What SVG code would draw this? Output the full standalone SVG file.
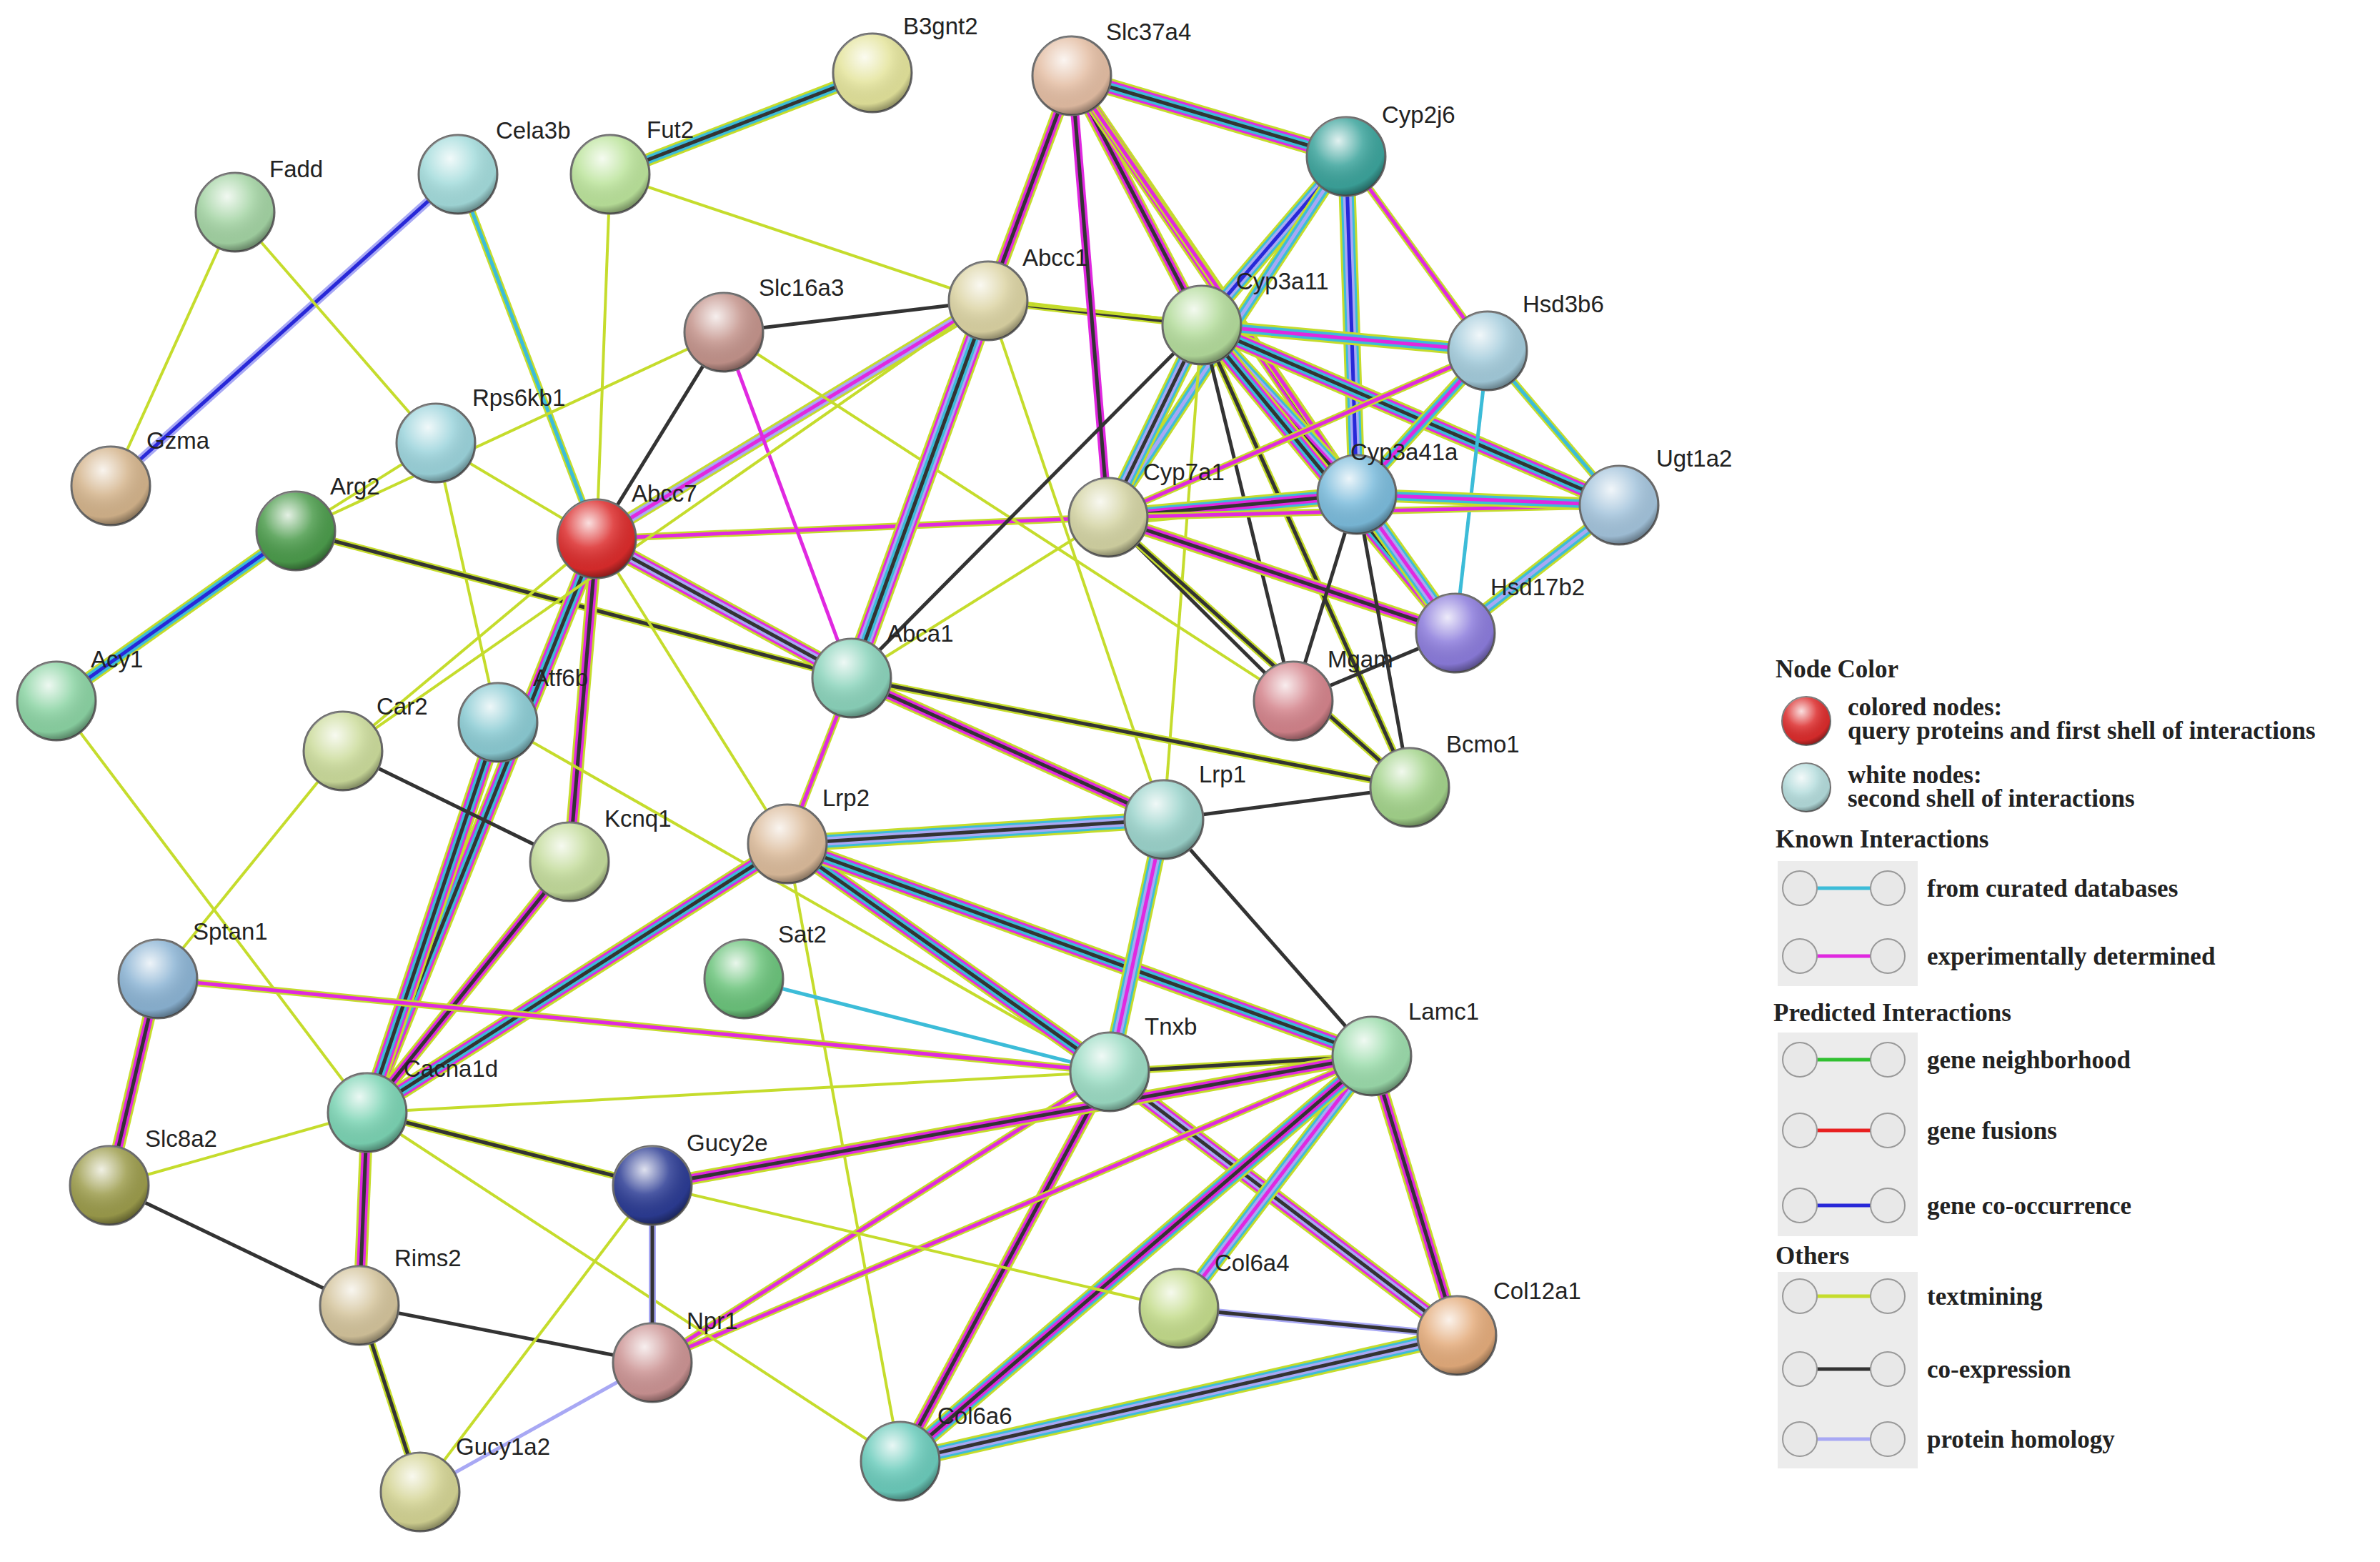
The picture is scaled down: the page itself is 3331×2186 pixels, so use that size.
<svg xmlns="http://www.w3.org/2000/svg" xmlns:xlink="http://www.w3.org/1999/xlink" width="3331" height="2186" viewBox="0 0 3331 2186">
<style>
.y{stroke:#c5dc2c}.m{stroke:#e028e0}.c{stroke:#3cbcd8}.k{stroke:#333}.p{stroke:#a8a8f4}.b{stroke:#2828d8}.g{stroke:#30c030}.r{stroke:#e82020}
use,path{fill:none}
.nd circle.base{stroke:#6a6a6a;stroke-width:3}
.lbl{font-family:"Liberation Sans",Arial,sans-serif;font-size:33px;fill:#222}
.lg{font-family:"Liberation Serif","Times New Roman",serif;font-weight:bold;font-size:35px;fill:#222}
.box{fill:#ececec}
</style>
<defs>
<radialGradient id="shine" cx="0.4" cy="0.3" r="0.7">
<stop offset="0" stop-color="#fff" stop-opacity="0.85"/>
<stop offset="0.45" stop-color="#fff" stop-opacity="0.15"/>
<stop offset="0.85" stop-color="#000" stop-opacity="0.05"/>
<stop offset="1" stop-color="#000" stop-opacity="0.35"/>
</radialGradient>
<path id="e1" d="M1221 102L854 244"/><path id="e2" d="M854 244L835 754"/><path id="e3" d="M854 244L1383 421"/>
<path id="e4" d="M641 244L835 754"/><path id="e5" d="M641 244L155 680"/><path id="e6" d="M329 297L155 680"/>
<path id="e7" d="M329 297L610 620"/><path id="e8" d="M610 620L414 743"/><path id="e9" d="M610 620L835 754"/>
<path id="e10" d="M610 620L697 1011"/><path id="e11" d="M414 743L79 981"/><path id="e12" d="M414 743L1192 949"/>
<path id="e13" d="M79 981L514 1557"/><path id="e14" d="M835 754L1013 465"/><path id="e15" d="M835 754L1383 421"/>
<path id="e16" d="M835 754L1551 724"/><path id="e17" d="M835 754L1192 949"/><path id="e18" d="M835 754L797 1206"/>
<path id="e19" d="M835 754L514 1557"/><path id="e20" d="M835 754L1102 1181"/><path id="e21" d="M835 754L480 1051"/>
<path id="e22" d="M1013 465L1192 949"/><path id="e23" d="M1013 465L414 743"/><path id="e24" d="M1013 465L1810 981"/>
<path id="e25" d="M1013 465L1383 421"/><path id="e26" d="M1383 421L1192 949"/><path id="e27" d="M1383 421L1682 455"/>
<path id="e28" d="M1383 421L1500 106"/><path id="e29" d="M1383 421L1629 1147"/><path id="e30" d="M1383 421L2082 491"/>
<path id="e31" d="M1383 421L480 1051"/><path id="e32" d="M1500 106L1884 219"/><path id="e33" d="M1500 106L1682 455"/>
<path id="e34" d="M1500 106L1551 724"/><path id="e35" d="M1500 106L1899 692"/><path id="e36" d="M1500 106L2037 886"/>
<path id="e37" d="M1884 219L1682 455"/><path id="e38" d="M1884 219L1899 692"/><path id="e39" d="M1884 219L2082 491"/>
<path id="e40" d="M1884 219L1551 724"/><path id="e41" d="M1682 455L2082 491"/><path id="e42" d="M1682 455L1899 692"/>
<path id="e43" d="M1682 455L2266 707"/><path id="e44" d="M1682 455L2037 886"/><path id="e45" d="M1682 455L1551 724"/>
<path id="e46" d="M1682 455L1810 981"/><path id="e47" d="M1682 455L1973 1102"/><path id="e48" d="M1682 455L1192 949"/>
<path id="e49" d="M1682 455L1629 1147"/><path id="e50" d="M2082 491L1899 692"/><path id="e51" d="M2082 491L2266 707"/>
<path id="e52" d="M2082 491L2037 886"/><path id="e53" d="M2082 491L1551 724"/><path id="e54" d="M1551 724L1899 692"/>
<path id="e55" d="M1551 724L2266 707"/><path id="e56" d="M1551 724L2037 886"/><path id="e57" d="M1551 724L1810 981"/>
<path id="e58" d="M1551 724L1973 1102"/><path id="e59" d="M1551 724L1192 949"/><path id="e60" d="M1899 692L2266 707"/>
<path id="e61" d="M1899 692L2037 886"/><path id="e62" d="M1899 692L1810 981"/><path id="e63" d="M1899 692L1973 1102"/>
<path id="e64" d="M2266 707L2037 886"/><path id="e65" d="M2037 886L1810 981"/><path id="e66" d="M1192 949L1973 1102"/>
<path id="e67" d="M1192 949L1629 1147"/><path id="e68" d="M1192 949L1102 1181"/><path id="e69" d="M697 1011L514 1557"/>
<path id="e70" d="M697 1011L1553 1500"/><path id="e71" d="M480 1051L797 1206"/><path id="e72" d="M480 1051L221 1370"/>
<path id="e73" d="M797 1206L514 1557"/><path id="e74" d="M1102 1181L1629 1147"/><path id="e75" d="M1102 1181L1553 1500"/>
<path id="e76" d="M1102 1181L1920 1478"/><path id="e77" d="M1102 1181L514 1557"/><path id="e78" d="M1102 1181L1260 2045"/>
<path id="e79" d="M1629 1147L1553 1500"/><path id="e80" d="M1629 1147L1920 1478"/><path id="e81" d="M1629 1147L1973 1102"/>
<path id="e82" d="M1041 1370L1553 1500"/><path id="e83" d="M221 1370L1553 1500"/><path id="e84" d="M221 1370L153 1659"/>
<path id="e85" d="M1553 1500L1920 1478"/><path id="e86" d="M1553 1500L514 1557"/><path id="e87" d="M1553 1500L913 1907"/>
<path id="e88" d="M1553 1500L1260 2045"/><path id="e89" d="M1553 1500L2039 1869"/><path id="e90" d="M1920 1478L2039 1869"/>
<path id="e91" d="M1920 1478L1650 1831"/><path id="e92" d="M1920 1478L1260 2045"/><path id="e93" d="M1920 1478L913 1659"/>
<path id="e94" d="M1920 1478L913 1907"/><path id="e95" d="M1650 1831L2039 1869"/><path id="e96" d="M1260 2045L2039 1869"/>
<path id="e97" d="M514 1557L913 1659"/><path id="e98" d="M514 1557L153 1659"/><path id="e99" d="M514 1557L503 1827"/>
<path id="e100" d="M514 1557L1260 2045"/><path id="e101" d="M913 1659L1650 1831"/><path id="e102" d="M153 1659L503 1827"/>
<path id="e103" d="M503 1827L913 1907"/><path id="e104" d="M503 1827L588 2088"/><path id="e105" d="M913 1659L913 1907"/>
<path id="e106" d="M913 1659L588 2088"/><path id="e107" d="M913 1907L588 2088"/>
</defs>
<rect width="3331" height="2186" fill="#fff"/>
<g id="connectors">
<use href="#e1" class="y" stroke-width="18"/><use href="#e1" class="c" stroke-width="12"/><use href="#e1" class="k" stroke-width="5"/>
<use href="#e2" class="y" stroke-width="4"/><use href="#e3" class="y" stroke-width="4"/>
<use href="#e4" class="y" stroke-width="10"/><use href="#e4" class="c" stroke-width="5"/>
<use href="#e5" class="p" stroke-width="12"/><use href="#e5" class="b" stroke-width="5"/>
<use href="#e6" class="y" stroke-width="4"/><use href="#e7" class="y" stroke-width="4"/><use href="#e8" class="y" stroke-width="4"/>
<use href="#e9" class="y" stroke-width="4"/><use href="#e10" class="y" stroke-width="4"/>
<use href="#e11" class="y" stroke-width="18"/><use href="#e11" class="c" stroke-width="12"/><use href="#e11" class="b" stroke-width="5"/>
<use href="#e12" class="y" stroke-width="10"/><use href="#e12" class="k" stroke-width="5"/>
<use href="#e13" class="y" stroke-width="4"/><use href="#e14" class="k" stroke-width="5"/>
<use href="#e15" class="y" stroke-width="18"/><use href="#e15" class="p" stroke-width="12"/><use href="#e15" class="m" stroke-width="5"/>
<use href="#e16" class="y" stroke-width="10"/><use href="#e16" class="m" stroke-width="5"/>
<use href="#e17" class="y" stroke-width="24"/><use href="#e17" class="m" stroke-width="18"/><use href="#e17" class="p" stroke-width="12"/><use href="#e17" class="k" stroke-width="5"/>
<use href="#e18" class="y" stroke-width="18"/><use href="#e18" class="m" stroke-width="12"/><use href="#e18" class="k" stroke-width="5"/>
<use href="#e19" class="y" stroke-width="24"/><use href="#e19" class="m" stroke-width="18"/><use href="#e19" class="c" stroke-width="12"/><use href="#e19" class="k" stroke-width="5"/>
<use href="#e20" class="y" stroke-width="4"/><use href="#e21" class="y" stroke-width="4"/>
<use href="#e22" class="m" stroke-width="5"/><use href="#e23" class="y" stroke-width="4"/><use href="#e24" class="y" stroke-width="4"/>
<use href="#e25" class="k" stroke-width="5"/>
<use href="#e26" class="y" stroke-width="30"/><use href="#e26" class="m" stroke-width="24"/><use href="#e26" class="p" stroke-width="18"/><use href="#e26" class="c" stroke-width="12"/><use href="#e26" class="k" stroke-width="5"/>
<use href="#e27" class="y" stroke-width="10"/><use href="#e27" class="k" stroke-width="5"/>
<use href="#e28" class="y" stroke-width="18"/><use href="#e28" class="m" stroke-width="12"/><use href="#e28" class="k" stroke-width="5"/>
<use href="#e29" class="y" stroke-width="4"/><use href="#e30" class="y" stroke-width="4"/><use href="#e31" class="y" stroke-width="4"/>
<use href="#e32" class="y" stroke-width="24"/><use href="#e32" class="m" stroke-width="18"/><use href="#e32" class="c" stroke-width="12"/><use href="#e32" class="k" stroke-width="5"/>
<use href="#e33" class="y" stroke-width="18"/><use href="#e33" class="m" stroke-width="12"/><use href="#e33" class="k" stroke-width="5"/>
<use href="#e34" class="m" stroke-width="12"/><use href="#e34" class="k" stroke-width="5"/>
<use href="#e35" class="y" stroke-width="18"/><use href="#e35" class="m" stroke-width="12"/><use href="#e35" class="k" stroke-width="5"/>
<use href="#e36" class="y" stroke-width="10"/><use href="#e36" class="m" stroke-width="5"/>
<use href="#e37" class="y" stroke-width="24"/><use href="#e37" class="c" stroke-width="18"/><use href="#e37" class="p" stroke-width="12"/><use href="#e37" class="b" stroke-width="5"/>
<use href="#e38" class="y" stroke-width="24"/><use href="#e38" class="c" stroke-width="18"/><use href="#e38" class="p" stroke-width="12"/><use href="#e38" class="b" stroke-width="5"/>
<use href="#e39" class="y" stroke-width="10"/><use href="#e39" class="m" stroke-width="5"/>
<use href="#e40" class="y" stroke-width="18"/><use href="#e40" class="c" stroke-width="12"/><use href="#e40" class="p" stroke-width="5"/>
<use href="#e41" class="y" stroke-width="18"/><use href="#e41" class="c" stroke-width="12"/><use href="#e41" class="m" stroke-width="5"/>
<use href="#e42" class="y" stroke-width="30"/><use href="#e42" class="c" stroke-width="24"/><use href="#e42" class="p" stroke-width="18"/><use href="#e42" class="m" stroke-width="12"/><use href="#e42" class="k" stroke-width="5"/>
<use href="#e43" class="y" stroke-width="24"/><use href="#e43" class="m" stroke-width="18"/><use href="#e43" class="c" stroke-width="12"/><use href="#e43" class="k" stroke-width="5"/>
<use href="#e44" class="y" stroke-width="24"/><use href="#e44" class="m" stroke-width="18"/><use href="#e44" class="c" stroke-width="12"/><use href="#e44" class="k" stroke-width="5"/>
<use href="#e45" class="y" stroke-width="24"/><use href="#e45" class="c" stroke-width="18"/><use href="#e45" class="p" stroke-width="12"/><use href="#e45" class="k" stroke-width="5"/>
<use href="#e46" class="k" stroke-width="5"/>
<use href="#e47" class="y" stroke-width="10"/><use href="#e47" class="k" stroke-width="5"/>
<use href="#e48" class="k" stroke-width="5"/><use href="#e49" class="y" stroke-width="4"/>
<use href="#e50" class="y" stroke-width="18"/><use href="#e50" class="c" stroke-width="12"/><use href="#e50" class="m" stroke-width="5"/>
<use href="#e51" class="y" stroke-width="10"/><use href="#e51" class="c" stroke-width="5"/>
<use href="#e52" class="c" stroke-width="5"/>
<use href="#e53" class="y" stroke-width="10"/><use href="#e53" class="m" stroke-width="5"/>
<use href="#e54" class="y" stroke-width="24"/><use href="#e54" class="c" stroke-width="18"/><use href="#e54" class="m" stroke-width="12"/><use href="#e54" class="k" stroke-width="5"/>
<use href="#e55" class="y" stroke-width="10"/><use href="#e55" class="m" stroke-width="5"/>
<use href="#e56" class="y" stroke-width="18"/><use href="#e56" class="m" stroke-width="12"/><use href="#e56" class="k" stroke-width="5"/>
<use href="#e57" class="k" stroke-width="5"/>
<use href="#e58" class="y" stroke-width="10"/><use href="#e58" class="k" stroke-width="5"/>
<use href="#e59" class="y" stroke-width="4"/>
<use href="#e60" class="y" stroke-width="18"/><use href="#e60" class="c" stroke-width="12"/><use href="#e60" class="m" stroke-width="5"/>
<use href="#e61" class="y" stroke-width="24"/><use href="#e61" class="c" stroke-width="18"/><use href="#e61" class="p" stroke-width="12"/><use href="#e61" class="m" stroke-width="5"/>
<use href="#e62" class="k" stroke-width="5"/><use href="#e63" class="k" stroke-width="5"/>
<use href="#e64" class="y" stroke-width="18"/><use href="#e64" class="c" stroke-width="12"/><use href="#e64" class="p" stroke-width="5"/>
<use href="#e65" class="k" stroke-width="5"/>
<use href="#e66" class="y" stroke-width="10"/><use href="#e66" class="k" stroke-width="5"/>
<use href="#e67" class="y" stroke-width="18"/><use href="#e67" class="m" stroke-width="12"/><use href="#e67" class="k" stroke-width="5"/>
<use href="#e68" class="y" stroke-width="10"/><use href="#e68" class="m" stroke-width="5"/>
<use href="#e69" class="y" stroke-width="24"/><use href="#e69" class="m" stroke-width="18"/><use href="#e69" class="c" stroke-width="12"/><use href="#e69" class="k" stroke-width="5"/>
<use href="#e70" class="y" stroke-width="4"/><use href="#e71" class="k" stroke-width="5"/><use href="#e72" class="y" stroke-width="4"/>
<use href="#e73" class="y" stroke-width="18"/><use href="#e73" class="m" stroke-width="12"/><use href="#e73" class="k" stroke-width="5"/>
<use href="#e74" class="y" stroke-width="24"/><use href="#e74" class="c" stroke-width="18"/><use href="#e74" class="p" stroke-width="12"/><use href="#e74" class="k" stroke-width="5"/>
<use href="#e75" class="y" stroke-width="24"/><use href="#e75" class="m" stroke-width="18"/><use href="#e75" class="c" stroke-width="12"/><use href="#e75" class="k" stroke-width="5"/>
<use href="#e76" class="y" stroke-width="24"/><use href="#e76" class="m" stroke-width="18"/><use href="#e76" class="c" stroke-width="12"/><use href="#e76" class="k" stroke-width="5"/>
<use href="#e77" class="y" stroke-width="24"/><use href="#e77" class="m" stroke-width="18"/><use href="#e77" class="c" stroke-width="12"/><use href="#e77" class="k" stroke-width="5"/>
<use href="#e78" class="y" stroke-width="4"/>
<use href="#e79" class="y" stroke-width="24"/><use href="#e79" class="c" stroke-width="18"/><use href="#e79" class="p" stroke-width="12"/><use href="#e79" class="m" stroke-width="5"/>
<use href="#e80" class="k" stroke-width="5"/><use href="#e81" class="k" stroke-width="5"/>
<use href="#e82" class="c" stroke-width="5"/>
<use href="#e83" class="y" stroke-width="10"/><use href="#e83" class="m" stroke-width="5"/>
<use href="#e84" class="y" stroke-width="18"/><use href="#e84" class="m" stroke-width="12"/><use href="#e84" class="k" stroke-width="5"/>
<use href="#e85" class="y" stroke-width="10"/><use href="#e85" class="k" stroke-width="5"/>
<use href="#e86" class="y" stroke-width="4"/>
<use href="#e87" class="y" stroke-width="10"/><use href="#e87" class="m" stroke-width="5"/>
<use href="#e88" class="y" stroke-width="18"/><use href="#e88" class="m" stroke-width="12"/><use href="#e88" class="k" stroke-width="5"/>
<use href="#e89" class="y" stroke-width="24"/><use href="#e89" class="m" stroke-width="18"/><use href="#e89" class="p" stroke-width="12"/><use href="#e89" class="k" stroke-width="5"/>
<use href="#e90" class="y" stroke-width="18"/><use href="#e90" class="m" stroke-width="12"/><use href="#e90" class="k" stroke-width="5"/>
<use href="#e91" class="y" stroke-width="24"/><use href="#e91" class="c" stroke-width="18"/><use href="#e91" class="p" stroke-width="12"/><use href="#e91" class="m" stroke-width="5"/>
<use href="#e92" class="y" stroke-width="24"/><use href="#e92" class="c" stroke-width="18"/><use href="#e92" class="m" stroke-width="12"/><use href="#e92" class="k" stroke-width="5"/>
<use href="#e93" class="y" stroke-width="18"/><use href="#e93" class="m" stroke-width="12"/><use href="#e93" class="k" stroke-width="5"/>
<use href="#e94" class="y" stroke-width="10"/><use href="#e94" class="m" stroke-width="5"/>
<use href="#e95" class="p" stroke-width="10"/><use href="#e95" class="k" stroke-width="5"/>
<use href="#e96" class="y" stroke-width="24"/><use href="#e96" class="c" stroke-width="18"/><use href="#e96" class="p" stroke-width="12"/><use href="#e96" class="k" stroke-width="5"/>
<use href="#e97" class="y" stroke-width="10"/><use href="#e97" class="k" stroke-width="5"/>
<use href="#e98" class="y" stroke-width="4"/>
<use href="#e99" class="y" stroke-width="18"/><use href="#e99" class="m" stroke-width="12"/><use href="#e99" class="k" stroke-width="5"/>
<use href="#e100" class="y" stroke-width="4"/><use href="#e101" class="y" stroke-width="4"/>
<use href="#e102" class="k" stroke-width="5"/><use href="#e103" class="k" stroke-width="5"/>
<use href="#e104" class="y" stroke-width="10"/><use href="#e104" class="k" stroke-width="5"/>
<use href="#e105" class="p" stroke-width="10"/><use href="#e105" class="k" stroke-width="5"/>
<use href="#e106" class="y" stroke-width="4"/><use href="#e107" class="p" stroke-width="5"/>
</g>
<g id="nodes">
<g id="B3gnt2" class="nd"><circle class="base" cx="1221" cy="102" r="55" fill="#e4e49c"/><circle cx="1221" cy="102" r="55" fill="url(#shine)"/><text class="lbl" x="1264" y="48">B3gnt2</text></g>
<g id="Slc37a4" class="nd"><circle class="base" cx="1500" cy="106" r="55" fill="#e4bea4"/><circle cx="1500" cy="106" r="55" fill="url(#shine)"/><text class="lbl" x="1548" y="56">Slc37a4</text></g>
<g id="Cela3b" class="nd"><circle class="base" cx="641" cy="244" r="55" fill="#a4dcdc"/><circle cx="641" cy="244" r="55" fill="url(#shine)"/><text class="lbl" x="694" y="194">Cela3b</text></g>
<g id="Fut2" class="nd"><circle class="base" cx="854" cy="244" r="55" fill="#bce49c"/><circle cx="854" cy="244" r="55" fill="url(#shine)"/><text class="lbl" x="905" y="193">Fut2</text></g>
<g id="Fadd" class="nd"><circle class="base" cx="329" cy="297" r="55" fill="#a4d4a4"/><circle cx="329" cy="297" r="55" fill="url(#shine)"/><text class="lbl" x="377" y="248">Fadd</text></g>
<g id="Cyp2j6" class="nd"><circle class="base" cx="1884" cy="219" r="55" fill="#3ca49c"/><circle cx="1884" cy="219" r="55" fill="url(#shine)"/><text class="lbl" x="1934" y="172">Cyp2j6</text></g>
<g id="Slc16a3" class="nd"><circle class="base" cx="1013" cy="465" r="55" fill="#c4948c"/><circle cx="1013" cy="465" r="55" fill="url(#shine)"/><text class="lbl" x="1062" y="414">Slc16a3</text></g>
<g id="Abcc1" class="nd"><circle class="base" cx="1383" cy="421" r="55" fill="#dcd4a4"/><circle cx="1383" cy="421" r="55" fill="url(#shine)"/><text class="lbl" x="1431" y="372">Abcc1</text></g>
<g id="Cyp3a11" class="nd"><circle class="base" cx="1682" cy="455" r="55" fill="#b4dc9c"/><circle cx="1682" cy="455" r="55" fill="url(#shine)"/><text class="lbl" x="1730" y="405">Cyp3a11</text></g>
<g id="Hsd3b6" class="nd"><circle class="base" cx="2082" cy="491" r="55" fill="#a4ccdc"/><circle cx="2082" cy="491" r="55" fill="url(#shine)"/><text class="lbl" x="2131" y="437">Hsd3b6</text></g>
<g id="Rps6kb1" class="nd"><circle class="base" cx="610" cy="620" r="55" fill="#9cd4dc"/><circle cx="610" cy="620" r="55" fill="url(#shine)"/><text class="lbl" x="661" y="568">Rps6kb1</text></g>
<g id="Gzma" class="nd"><circle class="base" cx="155" cy="680" r="55" fill="#d4b48c"/><circle cx="155" cy="680" r="55" fill="url(#shine)"/><text class="lbl" x="205" y="628">Gzma</text></g>
<g id="Arg2" class="nd"><circle class="base" cx="414" cy="743" r="55" fill="#4c9c4c"/><circle cx="414" cy="743" r="55" fill="url(#shine)"/><text class="lbl" x="462" y="692">Arg2</text></g>
<g id="Abcc7" class="nd"><circle class="base" cx="835" cy="754" r="55" fill="#dc2c2c"/><circle cx="835" cy="754" r="55" fill="url(#shine)"/><text class="lbl" x="884" y="702">Abcc7</text></g>
<g id="Cyp7a1" class="nd"><circle class="base" cx="1551" cy="724" r="55" fill="#d4d4a4"/><circle cx="1551" cy="724" r="55" fill="url(#shine)"/><text class="lbl" x="1600" y="672">Cyp7a1</text></g>
<g id="Cyp3a41a" class="nd"><circle class="base" cx="1899" cy="692" r="55" fill="#7cbcdc"/><circle cx="1899" cy="692" r="55" fill="url(#shine)"/><text class="lbl" x="1890" y="644">Cyp3a41a</text></g>
<g id="Ugt1a2" class="nd"><circle class="base" cx="2266" cy="707" r="55" fill="#a4c4dc"/><circle cx="2266" cy="707" r="55" fill="url(#shine)"/><text class="lbl" x="2318" y="653">Ugt1a2</text></g>
<g id="Hsd17b2" class="nd"><circle class="base" cx="2037" cy="886" r="55" fill="#8c7cdc"/><circle cx="2037" cy="886" r="55" fill="url(#shine)"/><text class="lbl" x="2086" y="833">Hsd17b2</text></g>
<g id="Abca1" class="nd"><circle class="base" cx="1192" cy="949" r="55" fill="#8cd4bc"/><circle cx="1192" cy="949" r="55" fill="url(#shine)"/><text class="lbl" x="1241" y="898">Abca1</text></g>
<g id="Mgam" class="nd"><circle class="base" cx="1810" cy="981" r="55" fill="#d4848c"/><circle cx="1810" cy="981" r="55" fill="url(#shine)"/><text class="lbl" x="1858" y="934">Mgam</text></g>
<g id="Acy1" class="nd"><circle class="base" cx="79" cy="981" r="55" fill="#8cd4a4"/><circle cx="79" cy="981" r="55" fill="url(#shine)"/><text class="lbl" x="127" y="934">Acy1</text></g>
<g id="Atf6b" class="nd"><circle class="base" cx="697" cy="1011" r="55" fill="#8cccd4"/><circle cx="697" cy="1011" r="55" fill="url(#shine)"/><text class="lbl" x="746" y="960">Atf6b</text></g>
<g id="Car2" class="nd"><circle class="base" cx="480" cy="1051" r="55" fill="#ccdc9c"/><circle cx="480" cy="1051" r="55" fill="url(#shine)"/><text class="lbl" x="527" y="1000">Car2</text></g>
<g id="Bcmo1" class="nd"><circle class="base" cx="1973" cy="1102" r="55" fill="#a4d48c"/><circle cx="1973" cy="1102" r="55" fill="url(#shine)"/><text class="lbl" x="2024" y="1053">Bcmo1</text></g>
<g id="Lrp1" class="nd"><circle class="base" cx="1629" cy="1147" r="55" fill="#9cd4cc"/><circle cx="1629" cy="1147" r="55" fill="url(#shine)"/><text class="lbl" x="1678" y="1095">Lrp1</text></g>
<g id="Lrp2" class="nd"><circle class="base" cx="1102" cy="1181" r="55" fill="#dcbc9c"/><circle cx="1102" cy="1181" r="55" fill="url(#shine)"/><text class="lbl" x="1151" y="1128">Lrp2</text></g>
<g id="Kcnq1" class="nd"><circle class="base" cx="797" cy="1206" r="55" fill="#c4dc9c"/><circle cx="797" cy="1206" r="55" fill="url(#shine)"/><text class="lbl" x="846" y="1157">Kcnq1</text></g>
<g id="Sat2" class="nd"><circle class="base" cx="1041" cy="1370" r="55" fill="#6cc47c"/><circle cx="1041" cy="1370" r="55" fill="url(#shine)"/><text class="lbl" x="1089" y="1319">Sat2</text></g>
<g id="Sptan1" class="nd"><circle class="base" cx="221" cy="1370" r="55" fill="#8cb4d4"/><circle cx="221" cy="1370" r="55" fill="url(#shine)"/><text class="lbl" x="270" y="1315">Sptan1</text></g>
<g id="Tnxb" class="nd"><circle class="base" cx="1553" cy="1500" r="55" fill="#9cdcc4"/><circle cx="1553" cy="1500" r="55" fill="url(#shine)"/><text class="lbl" x="1602" y="1448">Tnxb</text></g>
<g id="Lamc1" class="nd"><circle class="base" cx="1920" cy="1478" r="55" fill="#9cdcac"/><circle cx="1920" cy="1478" r="55" fill="url(#shine)"/><text class="lbl" x="1971" y="1427">Lamc1</text></g>
<g id="Cacna1d" class="nd"><circle class="base" cx="514" cy="1557" r="55" fill="#7cd4b4"/><circle cx="514" cy="1557" r="55" fill="url(#shine)"/><text class="lbl" x="565" y="1507">Cacna1d</text></g>
<g id="Slc8a2" class="nd"><circle class="base" cx="153" cy="1659" r="55" fill="#9c9c4c"/><circle cx="153" cy="1659" r="55" fill="url(#shine)"/><text class="lbl" x="203" y="1605">Slc8a2</text></g>
<g id="Gucy2e" class="nd"><circle class="base" cx="913" cy="1659" r="55" fill="#2c3c94"/><circle cx="913" cy="1659" r="55" fill="url(#shine)"/><text class="lbl" x="961" y="1611">Gucy2e</text></g>
<g id="Rims2" class="nd"><circle class="base" cx="503" cy="1827" r="55" fill="#d4c49c"/><circle cx="503" cy="1827" r="55" fill="url(#shine)"/><text class="lbl" x="552" y="1772">Rims2</text></g>
<g id="Col6a4" class="nd"><circle class="base" cx="1650" cy="1831" r="55" fill="#c4dc8c"/><circle cx="1650" cy="1831" r="55" fill="url(#shine)"/><text class="lbl" x="1700" y="1779">Col6a4</text></g>
<g id="Col12a1" class="nd"><circle class="base" cx="2039" cy="1869" r="55" fill="#e4ac7c"/><circle cx="2039" cy="1869" r="55" fill="url(#shine)"/><text class="lbl" x="2090" y="1818">Col12a1</text></g>
<g id="Npr1" class="nd"><circle class="base" cx="913" cy="1907" r="55" fill="#cc9494"/><circle cx="913" cy="1907" r="55" fill="url(#shine)"/><text class="lbl" x="961" y="1860">Npr1</text></g>
<g id="Col6a6" class="nd"><circle class="base" cx="1260" cy="2045" r="55" fill="#6cccbc"/><circle cx="1260" cy="2045" r="55" fill="url(#shine)"/><text class="lbl" x="1312" y="1993">Col6a6</text></g>
<g id="Gucy1a2" class="nd"><circle class="base" cx="588" cy="2088" r="55" fill="#d4d494"/><circle cx="588" cy="2088" r="55" fill="url(#shine)"/><text class="lbl" x="638" y="2036">Gucy1a2</text></g>
</g>
<g id="legend">
<text class="lg" x="2485" y="948">Node Color</text>
<circle cx="2528" cy="1009" r="34" fill="#dc2c2c" stroke="#777" stroke-width="2"/><circle cx="2528" cy="1009" r="34" fill="url(#shine)"/>
<text class="lg" x="2586" y="1001">colored nodes:</text><text class="lg" x="2586" y="1034">query proteins and first shell of interactions</text>
<circle cx="2528" cy="1102" r="34" fill="#b4dcdc" stroke="#777" stroke-width="2"/><circle cx="2528" cy="1102" r="34" fill="url(#shine)"/>
<text class="lg" x="2586" y="1096">white nodes:</text><text class="lg" x="2586" y="1129">second shell of interactions</text>
<text class="lg" x="2485" y="1186">Known Interactions</text>
<rect class="box" x="2488" y="1205" width="196" height="175"/>
<text class="lg" x="2482" y="1429">Predicted Interactions</text>
<rect class="box" x="2488" y="1445" width="196" height="285"/>
<text class="lg" x="2485" y="1769">Others</text>
<rect class="box" x="2488" y="1780" width="196" height="275"/>
<g stroke-width="5"><line class="c" x1="2519" y1="1243" x2="2642" y2="1243"/><line class="m" x1="2519" y1="1338" x2="2642" y2="1338"/><line class="g" x1="2519" y1="1483" x2="2642" y2="1483"/><line class="r" x1="2519" y1="1582" x2="2642" y2="1582"/><line class="b" x1="2519" y1="1687" x2="2642" y2="1687"/><line class="y" x1="2519" y1="1814" x2="2642" y2="1814"/><line class="k" x1="2519" y1="1916" x2="2642" y2="1916"/><line class="p" x1="2519" y1="2014" x2="2642" y2="2014"/></g>
<g fill="#e8e8e8" stroke="#999" stroke-width="2">
<circle cx="2519" cy="1243" r="24"/><circle cx="2642" cy="1243" r="24"/><circle cx="2519" cy="1338" r="24"/><circle cx="2642" cy="1338" r="24"/>
<circle cx="2519" cy="1483" r="24"/><circle cx="2642" cy="1483" r="24"/><circle cx="2519" cy="1582" r="24"/><circle cx="2642" cy="1582" r="24"/>
<circle cx="2519" cy="1687" r="24"/><circle cx="2642" cy="1687" r="24"/><circle cx="2519" cy="1814" r="24"/><circle cx="2642" cy="1814" r="24"/>
<circle cx="2519" cy="1916" r="24"/><circle cx="2642" cy="1916" r="24"/><circle cx="2519" cy="2014" r="24"/><circle cx="2642" cy="2014" r="24"/>
</g>
<text class="lg" x="2697" y="1255">from curated databases</text>
<text class="lg" x="2697" y="1350">experimentally determined</text>
<text class="lg" x="2697" y="1495">gene neighborhood</text>
<text class="lg" x="2697" y="1594">gene fusions</text>
<text class="lg" x="2697" y="1699">gene co-occurrence</text>
<text class="lg" x="2697" y="1826">textmining</text>
<text class="lg" x="2697" y="1928">co-expression</text>
<text class="lg" x="2697" y="2026">protein homology</text>
</g>
</svg>
